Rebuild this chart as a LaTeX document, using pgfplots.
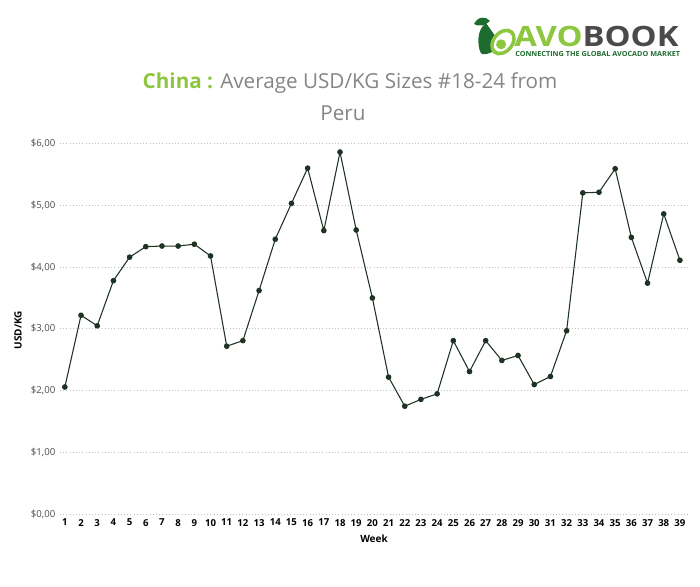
\documentclass[border=0pt]{standalone}
\usepackage{pgfplots}
\pgfplotsset{compat=1.18}
\usepackage{fontspec}
\setmainfont{Open Sans}
\definecolor{avogreen}{HTML}{8DC63F}
\definecolor{avodark}{HTML}{1E6B2E}
\definecolor{linegreen}{HTML}{1E3324}
\definecolor{titlegray}{HTML}{858585}
\definecolor{bookgray}{HTML}{4A4A4A}

\pgfplotstableread{
week price
1 2.06
2 3.22
3 3.05
4 3.78
5 4.16
6 4.33
7 4.34
8 4.34
9 4.37
10 4.18
11 2.72
12 2.81
13 3.62
14 4.45
15 5.03
16 5.60
17 4.59
18 5.86
19 4.60
20 3.50
21 2.22
22 1.75
23 1.86
24 1.95
25 2.81
26 2.31
27 2.81
28 2.49
29 2.57
30 2.10
31 2.23
32 2.97
33 5.20
34 5.21
35 5.59
36 4.48
37 3.74
38 4.86
39 4.11
}\pricetable

\begin{document}
\begin{tikzpicture}
\begin{scope}[x=0.75pt, y=0.75pt]
\path[use as bounding box] (0,0) rectangle (700,586);

% logo: leaf, avocado body, slice
\fill[avodark] (474,562) .. controls (478,570) and (486,570) .. (490,565)
  .. controls (485,560) and (478,559) .. (474,562) -- cycle;
\fill[avodark] (486,563) .. controls (476,556) and (478,540) .. (480,535)
  .. controls (482,528) and (490,533) .. (492,536) -- (498,546) -- cycle;
\fill[avodark] (482,545) .. controls (476,536) and (482,530) .. (490,533)
  .. controls (496,535) and (500,540) .. (498,546) -- cycle;
\begin{scope}[rotate around={-40:(503,544)}]
\fill[avogreen] (503,544) ellipse (11 and 15);
\fill[white] (503,544) ellipse (7.5 and 11);
\fill[avogreen] (503,541) circle (5);
\end{scope}
\node[anchor=base west, inner sep=0pt, xscale=1.17,
  font=\bfseries\fontsize{21}{21}\selectfont]
  at (514,539) {\textcolor{avogreen}{AVO}\textcolor{bookgray}{BOOK}};
\node[anchor=base west, inner sep=0pt, text=avodark, xscale=1.05,
  font=\bfseries\fontsize{5.2}{6}\selectfont]
  at (515,529) {CONNECTING THE GLOBAL AVOCADO MARKET};

% title
\node[inner sep=0pt, text=titlegray, font=\fontsize{15.5}{18}\selectfont] at (350,503)
  {\textcolor{avogreen}{\bfseries China :} Average USD/KG Sizes \#18-24 from};
\node[inner sep=0pt, text=titlegray, font=\fontsize{15.5}{18}\selectfont] at (343,473) {Peru};

% y label
\node[rotate=90, inner sep=0pt, font=\bfseries\fontsize{7.5}{9}\selectfont] at (18,256) {USD/KG};
\end{scope}

\begin{axis}[
    at={(45pt,53.7pt)}, anchor=south west,
    scale only axis,
    width=471pt, height=278.25pt,
    xmin=0.7, xmax=39.5,
    ymin=0, ymax=6,
    axis line style={draw=none},
    tick style={draw=none},
    xtick={1,...,39},
    ytick={0,1,2,3,4,5,6},
    yticklabels={{\$0,00},{\$1,00},{\$2,00},{\$3,00},{\$4,00},{\$5,00},{\$6,00}},
    yticklabel style={font=\fontsize{7.2}{8}\selectfont, text=bookgray},
    xticklabel style={font=\bfseries\fontsize{7.2}{8}\selectfont},
    /pgf/number format/assume math mode=true,
    ymajorgrids,
    grid style={dotted, gray!50, line width=0.7pt},
    xlabel={Week},
    xlabel style={font=\bfseries\fontsize{7.5}{9}\selectfont},
]
\addplot[color=linegreen, line width=0.8pt, mark=*, mark size=1.7pt,
  mark options={fill=linegreen}] table[x=week, y=price] {\pricetable};
\end{axis}
\end{tikzpicture}
\end{document}
